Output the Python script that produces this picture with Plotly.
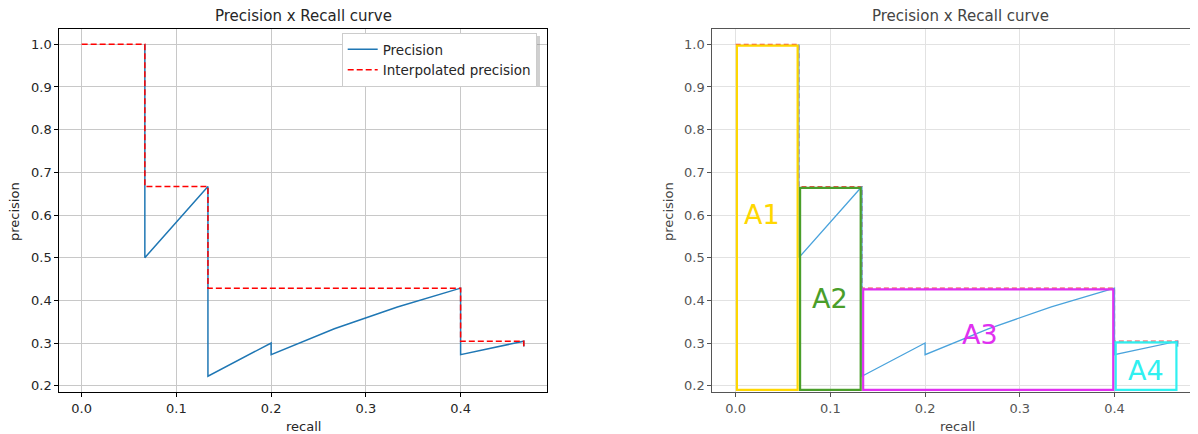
import plotly.graph_objects as go

# ---------------- data ----------------
recall = [0.0667, 0.0667, 0.1333, 0.1333, 0.1333, 0.1333, 0.1333, 0.1333, 0.1333,
          0.2, 0.2, 0.2667, 0.3333, 0.4, 0.4, 0.4, 0.4, 0.4, 0.4, 0.4, 0.4, 0.4,
          0.4667, 0.4667]
precision = [1.0, 0.5, 0.6667, 0.5, 0.4, 0.3333, 0.2857, 0.25, 0.2222,
             0.3, 0.2727, 0.3333, 0.3846, 0.4286, 0.4, 0.375, 0.3529, 0.3333,
             0.3158, 0.3, 0.2857, 0.2727, 0.3043, 0.2917]
interp_recall = [0.0, 0.0667, 0.0667, 0.1333, 0.1333, 0.4, 0.4, 0.4667, 0.4667]
interp_precision = [1.0, 1.0, 0.6667, 0.6667, 0.4286, 0.4286, 0.3043, 0.3043, 0.2917]

area_names = ["A1", "A2", "A3", "A4"]
area_start = [0.0, 0.0667, 0.1333, 0.4]
area_end = [0.0667, 0.1333, 0.4, 0.4667]
area_top = [1.0, 0.6667, 0.4286, 0.3043]
area_base = 0.19
area_label_x = [0.028, 0.10, 0.258, 0.433]
area_label_y = [0.60, 0.405, 0.32, 0.235]
area_colors = ["#FFD700", "#4A9E2A", "#E030F0", "#30F0F0"]

x_ticks = [0.0, 0.1, 0.2, 0.3, 0.4]
y_ticks = [0.2, 0.3, 0.4, 0.5, 0.6, 0.7, 0.8, 0.9, 1.0]

W, H = 1198, 434
OFF = 8  # page body margin offset
FONT = "DejaVu Sans"


def px_x(p):
    return (p - OFF) / W


def px_y(p):
    return 1 - (p - OFF) / H


fig = go.Figure()

# left chart
fig.add_trace(go.Scatter(x=recall, y=precision, mode="lines", name="Precision",
                         line=dict(color="#1f77b4", width=1.5),
                         xaxis="x", yaxis="y"))
fig.add_trace(go.Scatter(x=interp_recall, y=interp_precision, mode="lines",
                         name="Interpolated precision",
                         line=dict(color="#ff0000", width=1.5, dash="6px,3px"),
                         xaxis="x", yaxis="y"))

# right chart
fig.add_trace(go.Scatter(x=interp_recall, y=interp_precision, mode="lines",
                         showlegend=False,
                         line=dict(color="#f04848", width=1.3, dash="5px,3px"),
                         xaxis="x2", yaxis="y2"))
fig.add_trace(go.Scatter(x=recall, y=precision, mode="lines", showlegend=False,
                         line=dict(color="#4aa3dc", width=1.3),
                         xaxis="x2", yaxis="y2"))

shapes = []
annotations = []
dx = 0.0013
dy = 0.003
for name, x0, x1, top, col, lx, ly in zip(area_names, area_start, area_end, area_top,
                                           area_colors, area_label_x, area_label_y):
    shapes.append(dict(type="rect", xref="x2", yref="y2",
                       x0=x0 + dx, x1=x1 - dx, y0=area_base, y1=top - dy,
                       line=dict(color=col, width=2.2), fillcolor="rgba(0,0,0,0)",
                       layer="above"))
    annotations.append(dict(x=lx, y=ly, xref="x2", yref="y2", text=name,
                            xanchor="center", yanchor="middle",
                            showarrow=False, font=dict(family=FONT, size=27, color=col)))

# legend shadow
shapes.append(dict(type="rect", xref="paper", yref="paper",
                   x0=px_x(344), x1=px_x(540), y0=px_y(86), y1=px_y(36),
                   fillcolor="rgba(120,120,120,0.35)", line=dict(width=0), layer="above"))

# layout in page pixels
L0, L1 = 59.3, 547.0
R0 = 712.3
TOP, BOT = 29.0, 392.3
annotations += [
    dict(x=px_x((L0 + L1) / 2), y=px_y(16), xref="paper", yref="paper",
         text="Precision x Recall curve", showarrow=False, xanchor="center", yanchor="middle",
         font=dict(family=FONT, size=15, color="#262626")),
    dict(x=px_x(960), y=px_y(16), xref="paper", yref="paper",
         text="Precision x Recall curve", showarrow=False, xanchor="center", yanchor="middle",
         font=dict(family=FONT, size=15, color="#444444")),
    dict(x=px_x((L0 + L1) / 2), y=px_y(426), xref="paper", yref="paper",
         text="recall", showarrow=False, xanchor="center", yanchor="middle",
         font=dict(family=FONT, size=13, color="#262626")),
    dict(x=px_x(957), y=px_y(426), xref="paper", yref="paper",
         text="recall", showarrow=False, xanchor="center", yanchor="middle",
         font=dict(family=FONT, size=13, color="#444444")),
    dict(x=px_x(15), y=px_y(212), xref="paper", yref="paper", textangle=-90,
         text="precision", showarrow=False, xanchor="center", yanchor="middle",
         font=dict(family=FONT, size=13, color="#262626")),
    dict(x=px_x(669), y=px_y(212), xref="paper", yref="paper", textangle=-90,
         text="precision", showarrow=False, xanchor="center", yanchor="middle",
         font=dict(family=FONT, size=13, color="#444444")),
]

common_x = dict(tickvals=x_ticks, tickformat=".1f", ticks="outside", ticklen=4,
                showgrid=True, zeroline=False, showline=True, mirror=True,
                automargin=False)
common_y = dict(tickvals=y_ticks, tickformat=".1f", ticks="outside", ticklen=4,
                showgrid=True, zeroline=False, showline=True, automargin=False)

# right chart: domain runs to paper edge (page px W+OFF); range end matches scale
r_x0_val = -0.0247
r_scale = 947.0  # px per unit recall
r_x1_val = r_x0_val + ((W + OFF) - R0) / r_scale

fig.update_layout(
    width=W, height=H,
    margin=dict(l=0, r=0, t=0, b=0, autoexpand=False),
    paper_bgcolor="white", plot_bgcolor="white",
    font=dict(family=FONT),
    showlegend=True,
    legend=dict(x=px_x(341.7), y=px_y(33), xanchor="left", yanchor="top",
                bgcolor="white", bordercolor="#cccccc", borderwidth=1,
                font=dict(family=FONT, size=13.5, color="#262626"),
                tracegroupgap=0, itemwidth=30),
    xaxis=dict(domain=[px_x(L0), px_x(L1)], range=[-0.0236, 0.4912], anchor="y",
               gridcolor="#c8c8c8", linecolor="#000000", tickcolor="#000000",
               tickfont=dict(family=FONT, size=13, color="#262626"), **common_x),
    yaxis=dict(domain=[px_y(BOT), px_y(TOP)], range=[0.1845, 1.0359], anchor="x",
               gridcolor="#c8c8c8", linecolor="#000000", tickcolor="#000000", mirror=True,
               tickfont=dict(family=FONT, size=13, color="#262626"), **common_y),
    xaxis2=dict(domain=[px_x(R0), 1.0], range=[r_x0_val, r_x1_val], anchor="y2",
                gridcolor="#e2e2e2", linecolor="#555555", tickcolor="#555555",
                tickfont=dict(family=FONT, size=13, color="#555555"), **common_x),
    yaxis2=dict(domain=[px_y(BOT), px_y(TOP)], range=[0.1845, 1.0359], anchor="x2",
                gridcolor="#e2e2e2", linecolor="#555555", tickcolor="#555555", mirror=False,
                tickfont=dict(family=FONT, size=13, color="#555555"), **common_y),
    shapes=shapes,
    annotations=annotations,
)

fig.write_html("out.html")
